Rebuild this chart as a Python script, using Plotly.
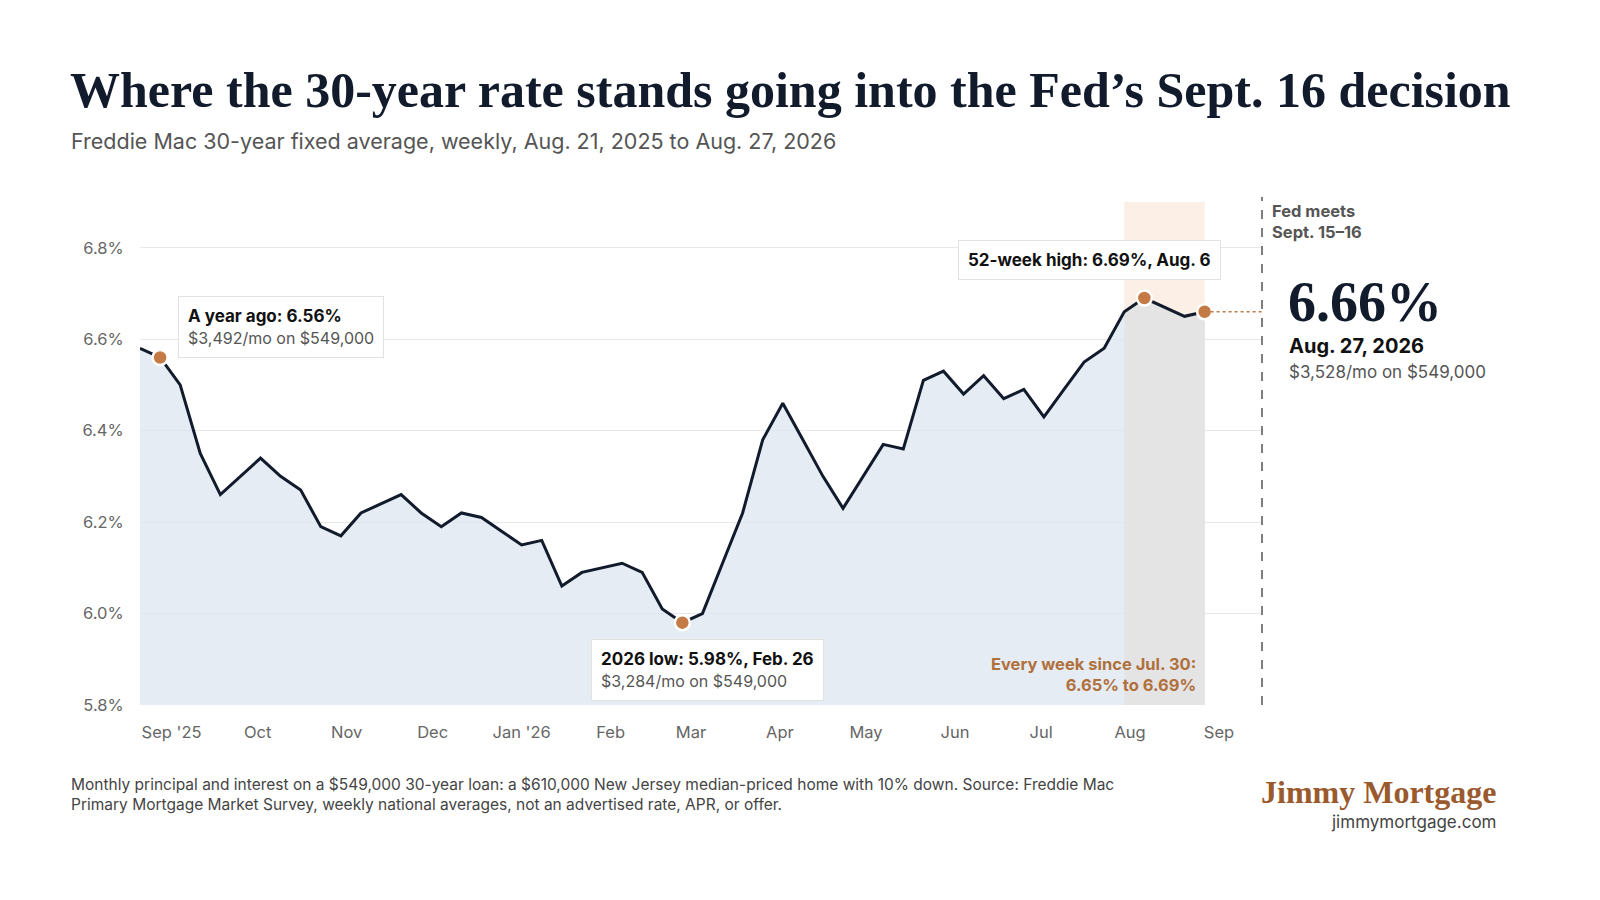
import plotly.graph_objects as go
import pandas as pd

weeks = pd.date_range("2025-08-21", "2026-08-27", freq="7D")
rates = [6.58, 6.56, 6.50, 6.35, 6.26, 6.30, 6.34, 6.30, 6.27, 6.19, 6.17, 6.22, 6.24, 6.26,
         6.22, 6.19, 6.22, 6.21, 6.18, 6.15, 6.16, 6.06, 6.09, 6.10, 6.11, 6.09, 6.01, 5.98,
         6.00, 6.11, 6.22, 6.38, 6.46, 6.38, 6.30, 6.23, 6.30, 6.37, 6.36, 6.51, 6.53, 6.48,
         6.52, 6.47, 6.49, 6.43, 6.49, 6.55, 6.58, 6.66, 6.69, 6.67, 6.65, 6.66]
tick_vals = ["2025-09-01", "2025-10-01", "2025-11-01", "2025-12-01", "2026-01-01", "2026-02-01",
             "2026-03-01", "2026-04-01", "2026-05-01", "2026-06-01", "2026-07-01", "2026-08-01", "2026-09-01"]
tick_text = ["Sep '25", "Oct", "Nov", "Dec", "Jan '26", "Feb", "Mar", "Apr", "May", "Jun", "Jul", "Aug", "Sep"]
y_ticks = [5.8, 6.0, 6.2, 6.4, 6.6, 6.8]
highlight = [(weeks[1], rates[1]), (weeks[27], rates[27]), (weeks[50], rates[50]), (weeks[53], rates[53])]

NAVY = "#111b2c"
ORANGE = "#c47a45"
FONT = "Inter"
SERIF = "Liberation Serif"

L, R, T, B = 140, 1262, 202, 705
def px(x): return (x - L) / (R - L)
def py(y): return (B - y) / (B - T)

df = pd.DataFrame({"week": weeks, "rate": rates})
band = df[df.week >= "2026-07-30"]

fig = go.Figure()
fig.add_shape(type="rect", xref="x", yref="paper", x0="2026-07-30", x1="2026-08-27", y0=0, y1=1,
              fillcolor="#fcefe5", line_width=0, layer="below")
fig.add_trace(go.Scatter(x=df.week, y=df.rate, mode="none", fill="tozeroy",
                         fillcolor="rgba(220,230,240,0.75)", hoverinfo="skip"))
fig.add_trace(go.Scatter(x=band.week, y=band.rate, mode="none", fill="tozeroy",
                         fillcolor="#e4e4e5", hoverinfo="skip"))
fig.add_trace(go.Scatter(x=df.week, y=df.rate, mode="lines", line=dict(color=NAVY, width=3)))
fig.add_trace(go.Scatter(x=[h[0] for h in highlight], y=[h[1] for h in highlight], mode="markers",
                         marker=dict(color=ORANGE, size=15, line=dict(color="white", width=2.5))))

fig.add_shape(type="line", xref="paper", yref="paper", x0=1, x1=1, y0=0, y1=1.01,
              line=dict(color="#555", width=1.5, dash="dash"))
fig.add_shape(type="line", xref="x", yref="y", x0=weeks[53], x1="2026-09-20", y0=rates[53], y1=rates[53],
              line=dict(color=ORANGE, width=1.5, dash="dot"))

ann = []
def A(x, y, text, size, color="#222", xanchor="left", yanchor="middle", family=FONT, **kw):
    ann.append(dict(xref="paper", yref="paper", x=px(x), y=py(y), text=text, showarrow=False,
                    font=dict(size=size, color=color, family=family), xanchor=xanchor,
                    yanchor=yanchor, align=kw.pop("align", "left"), **kw))

A(68, 90, "<b>Where the 30-year rate stands going into the Fed’s Sept. 16 decision</b>", 50, NAVY, family=SERIF)
A(69, 141, "Freddie Mac 30-year fixed average, weekly, Aug. 21, 2025 to Aug. 27, 2026", 21.5, "#555")
box = dict(bgcolor="white", bordercolor="#e2e2e2", borderwidth=1, borderpad=9)
A(178, 327, "<b>A year ago: 6.56%</b><br><span style='font-size:16px;color:#555'>$3,492/mo on $549,000</span>", 17, "#111", **box)
A(958, 260, "<b>52-week high: 6.69%, Aug. 6</b>", 17, "#111", **box)
A(591, 670, "<b>2026 low: 5.98%, Feb. 26</b><br><span style='font-size:16px;color:#555'>$3,284/mo on $549,000</span>", 17, "#111", **box)
A(1198, 674, "<b>Every week since Jul. 30:<br>6.65% to 6.69%</b>", 16.5, "#b0703c", xanchor="right", align="right")
A(1270, 221, "<b>Fed meets<br>Sept. 15–16</b>", 16.5, "#555")
A(1286, 302, "<b>6.66%</b>", 56, NAVY, family=SERIF)
A(1287, 346, "<b>Aug. 27, 2026</b>", 20, "#111")
A(1287, 372, "$3,528/mo on $549,000", 17, "#555")
A(69, 794, "Monthly principal and interest on a $549,000 30-year loan: a $610,000 New Jersey median-priced home with 10% down. Source: Freddie Mac<br>Primary Mortgage Market Survey, weekly national averages, not an advertised rate, APR, or offer.", 15.5, "#444")
A(1498, 792, "<b>Jimmy Mortgage</b>", 32, "#9a5a2e", xanchor="right", family=SERIF)
A(1498, 822, "jimmymortgage.com", 17, "#444", xanchor="right")

fig.update_layout(
    width=1600, height=900, margin=dict(l=L, r=1600 - R, t=T, b=900 - B),
    paper_bgcolor="white", plot_bgcolor="white", showlegend=False, annotations=ann,
    font=dict(family=FONT), hovermode=False,
    xaxis=dict(range=["2025-08-21", "2026-09-16"], tickvals=tick_vals, ticktext=tick_text,
               showgrid=False, zeroline=False, showline=False, ticks="outside", ticklen=12,
               tickcolor="rgba(0,0,0,0)", tickfont=dict(size=16.5, color="#666")),
    yaxis=dict(range=[5.8, 6.9], tickvals=y_ticks, ticktext=[f"{v:.1f}%" for v in y_ticks],
               gridcolor="#e8e8e8", zeroline=False, showline=False, ticks="outside",
               ticklen=12, tickcolor="rgba(0,0,0,0)", tickfont=dict(size=16.5, color="#666")),
)
fig.write_html("out.html", config={"displayModeBar": False},
               post_script="document.body.style.margin='0';document.body.style.overflow='hidden';")
